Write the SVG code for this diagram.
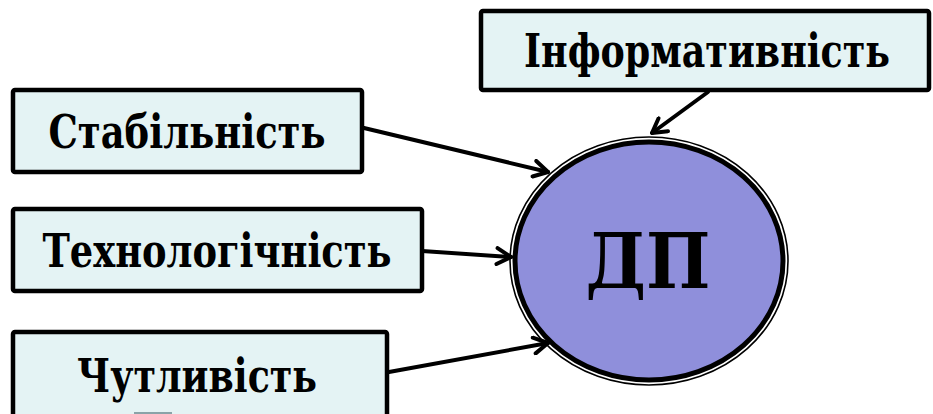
<svg xmlns="http://www.w3.org/2000/svg" width="933" height="414" viewBox="0 0 933 414">
  <defs>
    <style>
      .box { fill: #e4f3f4; stroke: #000; stroke-width: 4.5; stroke-linejoin: round; }
      .link { stroke: #000; stroke-width: 4; fill: none; stroke-linecap: round; }
      .lbl { font-family: 'DejaVu Serif Condensed', 'DejaVu Serif', 'Liberation Serif', serif; font-weight: bold; font-size: 46px; text-anchor: middle; fill: #000; }
      .core { font-family: 'DejaVu Serif Condensed', 'DejaVu Serif', 'Liberation Serif', serif; font-weight: bold; font-size: 76px; text-anchor: middle; fill: #000; }
    </style>
    <marker id="arrow" viewBox="0 0 20 20" refX="18" refY="10" markerWidth="20" markerHeight="20" markerUnits="userSpaceOnUse" orient="auto">
      <path d="M4 2 L18 10 L4 18" fill="none" stroke="#000" stroke-width="4" stroke-linecap="round" stroke-linejoin="round"/>
    </marker>
  </defs>
  <rect width="933" height="414" fill="#fff"/>

  <g id="connectors">
    <line class="link" x1="364" y1="128" x2="548" y2="172" marker-end="url(#arrow)"/>
    <line class="link" x1="422" y1="251" x2="511" y2="257" marker-end="url(#arrow)"/>
    <line class="link" x1="389" y1="372" x2="548" y2="343" marker-end="url(#arrow)"/>
    <line class="link" x1="708" y1="92" x2="652" y2="133" marker-end="url(#arrow)"/>
  </g>

  <g id="node-dp">
    <ellipse cx="649" cy="261" rx="139" ry="124" fill="none" stroke="#000" stroke-width="1.6"/>
    <ellipse cx="649" cy="261" rx="134" ry="119" fill="#8f8fdb" stroke="#000" stroke-width="5"/>
    <text class="core" x="648" y="288" textLength="125" lengthAdjust="spacingAndGlyphs">ДП</text>
  </g>

  <g id="node-informatyvnist">
    <rect class="box" x="481" y="11" width="448" height="79" rx="2"/>
    <text class="lbl" x="707" y="67" font-size="43" textLength="366" lengthAdjust="spacingAndGlyphs">Інформативність</text>
  </g>

  <g id="node-stabilnist">
    <rect class="box" x="13" y="90" width="349" height="82" rx="2"/>
    <text class="lbl" x="187" y="148" textLength="277" lengthAdjust="spacingAndGlyphs">Стабільність</text>
  </g>

  <g id="node-tekhnolohichnist">
    <rect class="box" x="13" y="209" width="409" height="82" rx="2"/>
    <text class="lbl" x="217" y="267" textLength="349" lengthAdjust="spacingAndGlyphs">Технологічність</text>
  </g>

  <g id="node-chutlyvist">
    <rect class="box" x="13" y="332" width="374" height="90" rx="2"/>
    <rect x="134" y="412" width="38" height="4" fill="#8aa3a8"/>
    <text class="lbl" x="197" y="392" textLength="240" lengthAdjust="spacingAndGlyphs">Чутливість</text>
  </g>
</svg>
